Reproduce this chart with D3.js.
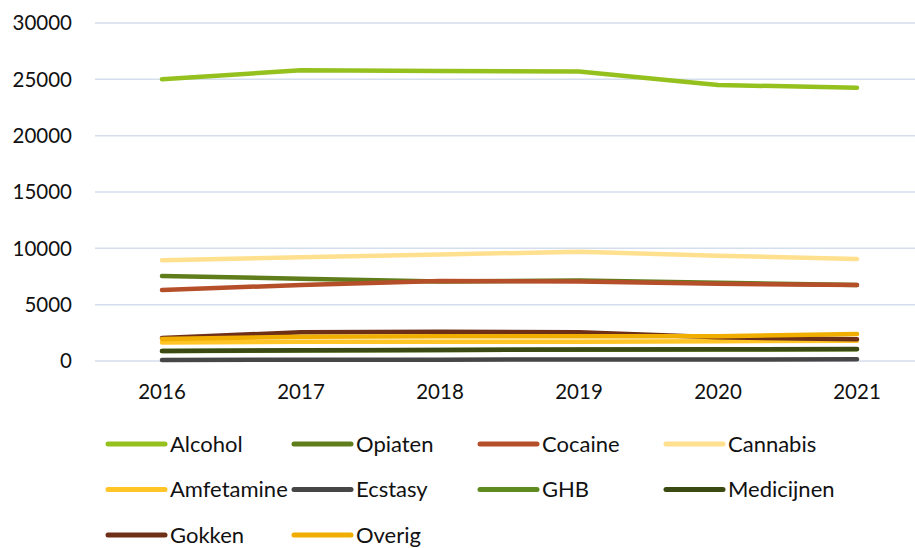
<!DOCTYPE html>
<html>
<head>
<meta charset="utf-8">
<script src="https://cdn.jsdelivr.net/npm/d3@7"></script>
<style>
  body { margin: 0; background: #fff; }
  text { font-family: Lato, "Open Sans", sans-serif; fill: #111; }
</style>
</head>
<body>
<script>
  // years on the x axis
  const years = ['2016', '2017', '2018', '2019', '2020', '2021'];
  const yTicks = [0, 5000, 10000, 15000, 20000, 25000, 30000];

  // values
  const alcohol = [25000, 25800, 25750, 25700, 24500, 24250];
  const opiaten = [7550, 7300, 7050, 7150, 6950, 6750];
  const cocaine = [6300, 6750, 7100, 7050, 6850, 6750];
  const cannabis = [8950, 9200, 9450, 9700, 9350, 9050];
  const amfetamine = [1650, 1700, 1700, 1700, 1750, 1800];
  const ecstasy = [90, 110, 120, 130, 140, 150];
  const ghb = [880, 940, 980, 1000, 1020, 1050];
  const medicijnen = [890, 950, 980, 1020, 1040, 1060];
  const gokken = [2050, 2550, 2600, 2550, 2100, 1930];
  const overig = [1950, 2150, 2200, 2200, 2200, 2400];

  const names = ['Alcohol', 'Opiaten', 'Cocaine', 'Cannabis', 'Amfetamine',
    'Ecstasy', 'GHB', 'Medicijnen', 'Gokken', 'Overig'];
  const colors = ['#95c11f', '#5f7e1b', '#b44f2a', '#ffe08e', '#ffc425',
    '#464646', '#5e8a1e', '#3a4a12', '#6e2f17', '#f0ae00'];

  const series = [alcohol, opiaten, cocaine, cannabis, amfetamine,
    ecstasy, ghb, medicijnen, gokken, overig].map((values, i) => ({
    name: names[i],
    color: colors[i],
    values: values,
  }));

  const width = 915;
  const height = 548;

  const svg = d3.select('body')
    .append('svg')
    .attr('width', width)
    .attr('height', height);

  const x = d3.scalePoint()
    .domain(years)
    .range([162, 857]);

  const y = d3.scaleLinear()
    .domain([0, 30000])
    .range([361, 23]);

  // gridlines
  svg.append('g')
    .selectAll('line')
    .data(yTicks)
    .join('line')
    .attr('x1', 95)
    .attr('x2', width)
    .attr('y1', (d) => y(d))
    .attr('y2', (d) => y(d))
    .attr('stroke', '#d5deec')
    .attr('stroke-width', 1.5);

  // y axis labels
  svg.append('g')
    .selectAll('text')
    .data(yTicks)
    .join('text')
    .attr('x', 72)
    .attr('y', (d) => y(d))
    .attr('dy', '0.36em')
    .attr('text-anchor', 'end')
    .attr('font-size', 20.5)
    .text((d) => d);

  // x axis labels
  svg.append('g')
    .selectAll('text')
    .data(years)
    .join('text')
    .attr('x', (d) => x(d))
    .attr('y', 392)
    .attr('dy', '0.36em')
    .attr('text-anchor', 'middle')
    .attr('font-size', 20.5)
    .text((d) => d);

  const line = d3.line()
    .x((d, i) => x(years[i]))
    .y((d) => y(d));

  svg.append('g')
    .selectAll('path')
    .data(series)
    .join('path')
    .attr('d', (d) => line(d.values))
    .attr('fill', 'none')
    .attr('stroke', (d) => d.color)
    .attr('stroke-width', 4.5)
    .attr('stroke-linecap', 'round')
    .attr('stroke-linejoin', 'round');

  // legend, 4 columns
  const legend = svg.append('g')
    .selectAll('g')
    .data(series)
    .join('g')
    .attr('transform', (d, i) =>
      `translate(${108 + (i % 4) * 186}, ${444 + Math.floor(i / 4) * 45.5})`);

  legend.append('line')
    .attr('x1', 0)
    .attr('x2', 57)
    .attr('stroke', (d) => d.color)
    .attr('stroke-width', 5)
    .attr('stroke-linecap', 'round');

  legend.append('text')
    .attr('x', 62)
    .attr('dy', '0.36em')
    .attr('font-size', 22)
    .attr('textLength', null)
    .text((d) => d.name);
</script>
</body>
</html>
